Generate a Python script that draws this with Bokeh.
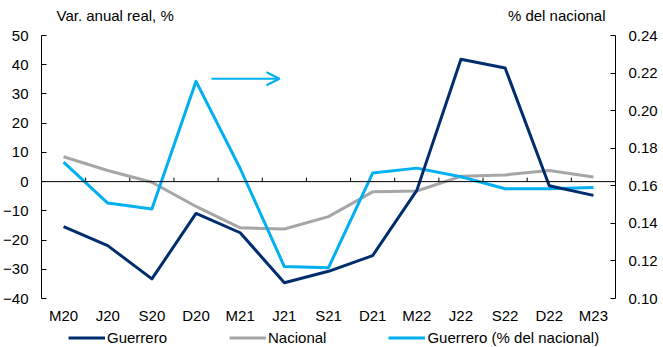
import numpy as np
from bokeh.plotting import figure
from bokeh.models import (Range1d, LinearAxis, FixedTicker, Legend, LegendItem,
                          Label, Arrow, OpenHead, NumeralTickFormatter, Span)
from bokeh.embed import file_html
from bokeh.resources import INLINE

categories = ["M20", "J20", "S20", "D20", "M21", "J21", "S21",
              "D21", "M22", "J22", "S22", "D22", "M23"]
guerrero = [-15.4, -21.9, -33.3, -10.9, -17.5, -34.6, -30.7,
            -25.3, -3.0, 41.9, 38.9, -1.4, -4.7]
nacional = [8.5, 3.8, -0.2, -8.5, -15.8, -16.2, -12.0,
            -3.5, -3.2, 1.8, 2.3, 3.8, 1.6]
guerrero_share = [0.1726, 0.1508, 0.1477, 0.2156, 0.1692, 0.1170, 0.1164,
                  0.1668, 0.1694, 0.1648, 0.1584, 0.1584, 0.1591]
left_ticks = [-40, -30, -20, -10, 0, 10, 20, 30, 40, 50]
right_ticks = [0.10, 0.12, 0.14, 0.16, 0.18, 0.20, 0.22, 0.24]

NAVY = "#002D6E"
GRAY = "#A6A6A6"
LBLUE = "#00B0F0"
FONT = "Liberation Sans"
FS = "15px"

n = len(categories)
x = np.arange(n) + 0.5

# geometry (pixels): axis span height, extra room above and below it
AX_H = 263.0
TOP_EXTRA = 35.0
BOT_EXTRA = 48.0
FW = 574
lmin, lmax = left_ticks[0], left_ticks[-1]
rmin, rmax = right_ticks[0], right_ticks[-1]
lpx = AX_H / (lmax - lmin)
rpx = AX_H / (rmax - rmin)
xpx = FW / n

p = figure(frame_width=FW, frame_height=int(AX_H + TOP_EXTRA + BOT_EXTRA),
           x_range=Range1d(0, n),
           y_range=Range1d(lmin - BOT_EXTRA / lpx, lmax + TOP_EXTRA / lpx),
           output_backend="svg", toolbar_location=None,
           min_border_left=39, min_border_top=0, min_border_right=10,
           min_border_bottom=0)
p.outline_line_color = None
p.grid.visible = False
p.extra_y_ranges = {"share": Range1d(rmin - BOT_EXTRA / rpx, rmax + TOP_EXTRA / rpx)}

# category labels, placed at the bottom of the value axis
xa = p.xaxis[0]
xa.fixed_location = lmin
xa.ticker = FixedTicker(ticks=list(x))
xa.major_label_overrides = {float(xi): c for xi, c in zip(x, categories)}
xa.axis_line_color = None
xa.major_tick_line_color = None
xa.major_tick_out = 0
xa.major_tick_in = 0
xa.minor_tick_line_color = None
xa.major_label_standoff = 8
xa.major_label_text_font = FONT
xa.major_label_text_font_size = FS
xa.major_label_text_color = "black"

# zero line with boundary ticks pointing up
p.add_layout(Span(location=0, dimension="width", line_color="black", line_width=1))
bounds = np.arange(1, n)
tick_len = 4 / lpx
p.segment(x0=bounds, y0=np.zeros(len(bounds)), x1=bounds,
          y1=np.full(len(bounds), tick_len), line_color="black", line_width=1)

ya = p.yaxis[0]
ya.bounds = (lmin, lmax)
ya.ticker = FixedTicker(ticks=left_ticks)
ya.major_tick_in = 5
ya.major_tick_out = 0
ya.minor_tick_line_color = None
ya.major_label_standoff = 13
ya.major_label_text_font = FONT
ya.major_label_text_font_size = FS
ya.major_label_text_color = "black"
ya.axis_line_color = "black"

ra = LinearAxis(y_range_name="share", ticker=FixedTicker(ticks=right_ticks),
                bounds=(rmin, rmax),
                formatter=NumeralTickFormatter(format="0.00"),
                major_tick_in=5, major_tick_out=0, minor_tick_line_color=None,
                major_label_standoff=13, major_label_text_font=FONT,
                major_label_text_font_size=FS, major_label_text_color="black",
                axis_line_color="black")
p.add_layout(ra, "right")

r_nac = p.line(x, nacional, line_color=GRAY, line_width=3, line_join="round")
r_share = p.line(x, guerrero_share, y_range_name="share", line_color=LBLUE,
                 line_width=3, line_join="round")
r_gro = p.line(x, guerrero, line_color=NAVY, line_width=3, line_join="round")

legend = Legend(items=[LegendItem(label="Guerrero", renderers=[r_gro]),
                       LegendItem(label="Nacional", renderers=[r_nac]),
                       LegendItem(label="Guerrero (% del nacional)", renderers=[r_share])],
                orientation="horizontal", location=(27, 0),
                glyph_width=37, glyph_height=11, label_height=11,
                label_standoff=2, spacing=62,
                padding=0, margin=0, border_line_color=None,
                background_fill_alpha=0,
                label_text_font=FONT, label_text_font_size=FS,
                label_text_color="black")
p.add_layout(legend, "center")

title_y = lmax + 20 / lpx
p.add_layout(Label(x=15 / xpx, y=title_y, text="Var. anual real, %",
                   text_font=FONT, text_font_size=FS, text_baseline="middle",
                   text_align="left", text_color="black"))
p.add_layout(Label(x=n - 10 / xpx, y=title_y, text="% del nacional",
                   text_font=FONT, text_font_size=FS, text_baseline="middle",
                   text_align="right", text_color="black"))

p.add_layout(Arrow(end=OpenHead(size=13, line_color=LBLUE, line_width=2),
                   x_start=3.85, y_start=35.2, x_end=5.39, y_end=35.2,
                   line_color=LBLUE, line_width=2))

open("out.html", "w").write(file_html(p, INLINE))
